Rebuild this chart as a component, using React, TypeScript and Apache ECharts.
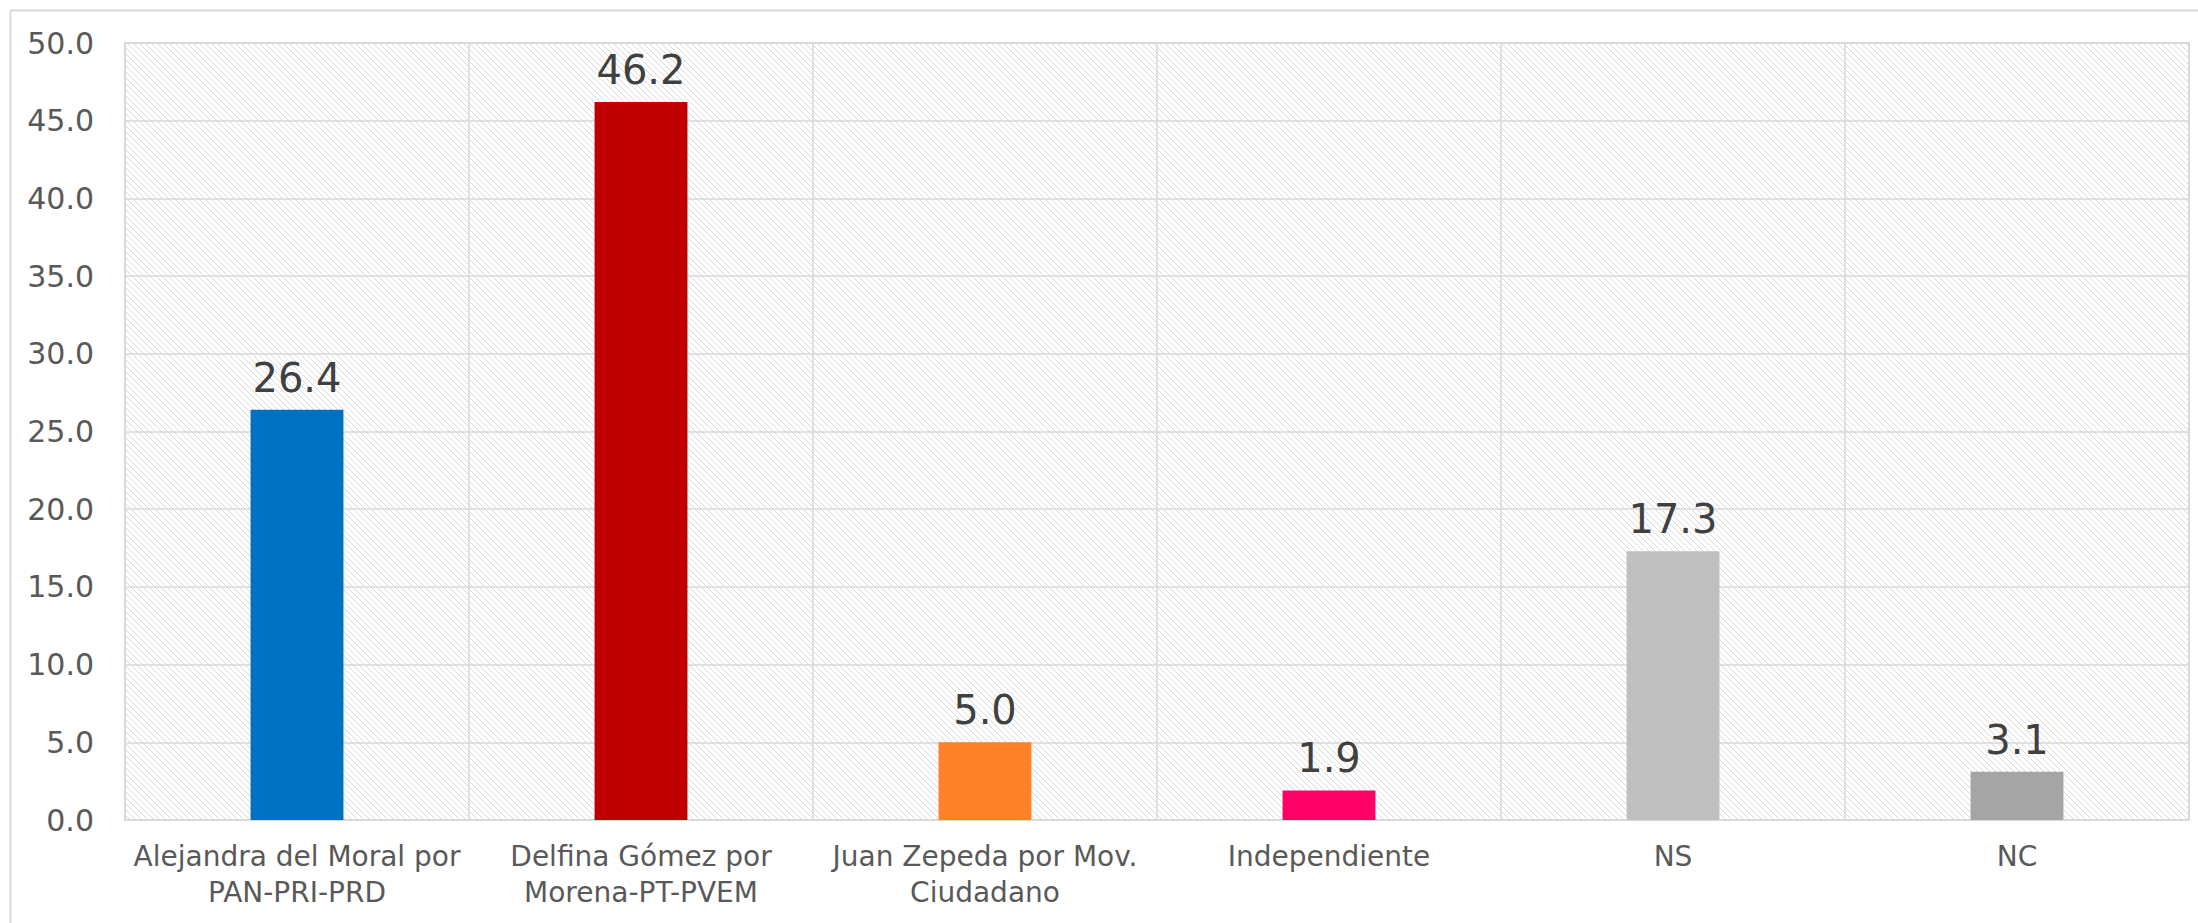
import React, { useEffect, useRef } from "react";
import * as echarts from "echarts";

const categories: string[] = [
  "Alejandra del Moral por\nPAN-PRI-PRD",
  "Delfina Gómez por\nMorena-PT-PVEM",
  "Juan Zepeda por Mov.\nCiudadano",
  "Independiente",
  "NS",
  "NC",
];
const values: number[] = [26.4, 46.2, 5.0, 1.9, 17.3, 3.1];
const barColors: string[] = ["#0070C0", "#C00000", "#FF8229", "#FF0066", "#BFBFBF", "#A5A5A5"];
const yMin = 0;
const yMax = 50;
const yInterval = 5;

function makeHatch(): HTMLCanvasElement {
  const size = 6;
  const c = document.createElement("canvas");
  c.width = size;
  c.height = size;
  const ctx = c.getContext("2d")!;
  ctx.fillStyle = "#ffffff";
  ctx.fillRect(0, 0, size, size);
  ctx.fillStyle = "#d9d9d9";
  for (let i = 0; i < size; i++) {
    ctx.fillRect(i, i, 1, 1);
  }
  return c;
}

export default function App() {
  const ref = useRef<HTMLDivElement>(null);
  useEffect(() => {
    document.body.style.margin = "0";
    const chart = echarts.init(ref.current!, null, { renderer: "svg" });
    const hatch = makeHatch();
    const font = "DejaVu Sans";
    chart.setOption({
      animation: false,
      backgroundColor: "#ffffff",
      textStyle: { fontFamily: font },
      grid: {
        left: 125,
        right: 9,
        top: 43,
        bottom: 103,
        show: true,
        borderColor: "#d9d9d9",
        borderWidth: 2,
        backgroundColor: {
          image: hatch,
          repeat: "repeat",
          imageWidth: 6,
          imageHeight: 6,
        },
      },
      graphic: [
        {
          type: "rect",
          silent: true,
          z: -10,
          shape: { x: 10.5, y: 10.5, width: 3000, height: 2000 },
          style: { fill: "none", stroke: "#d9d9d9", lineWidth: 2 },
        },
      ],
      xAxis: {
        type: "category",
        data: categories,
        axisTick: { show: false },
        axisLine: { show: true, lineStyle: { color: "#d9d9d9", width: 2 } },
        splitLine: { show: true, interval: 0, lineStyle: { color: "#d9d9d9", width: 1.5 } },
        axisLabel: {
          interval: 0,
          color: "#595959",
          fontFamily: font,
          fontSize: 28,
          lineHeight: 36,
          margin: 18,
        },
      },
      yAxis: {
        type: "value",
        min: yMin,
        max: yMax,
        interval: yInterval,
        axisLine: { show: false },
        axisTick: { show: false },
        splitLine: { show: true, lineStyle: { color: "#d9d9d9", width: 1.5 } },
        axisLabel: {
          color: "#595959",
          fontFamily: font,
          fontSize: 30,
          margin: 31,
          formatter: (v: number) => v.toFixed(1),
        },
      },
      series: [
        {
          type: "bar",
          barWidth: "27%",
          data: values.map((v, i) => ({ value: v, itemStyle: { color: barColors[i] } })),
          label: {
            show: true,
            position: "top",
            distance: 12,
            color: "#404040",
            fontFamily: font,
            fontSize: 40,
            formatter: (p: any) => Number(p.value).toFixed(1),
          },
        },
      ],
    });
    return () => chart.dispose();
  }, []);
  return <div ref={ref} style={{ width: 2198, height: 923 }} />;
}
